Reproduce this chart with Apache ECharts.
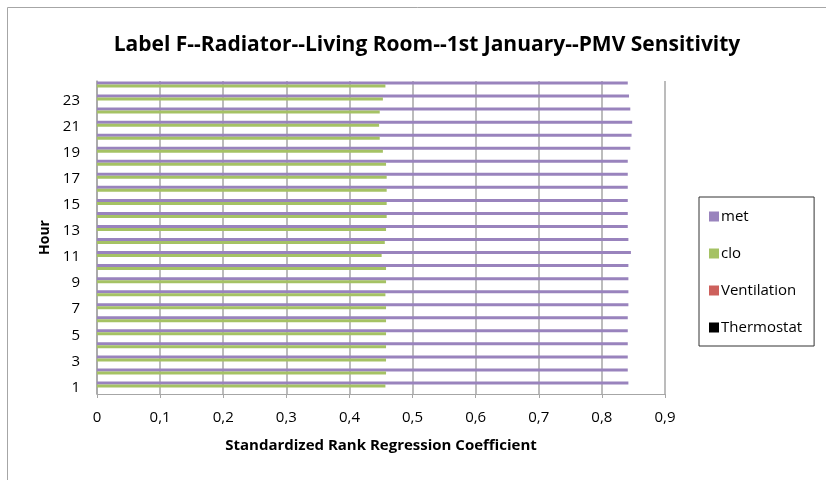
<!DOCTYPE html>
<html>
<head>
<meta charset="utf-8">
<script src="https://cdn.jsdelivr.net/npm/echarts@6/dist/echarts.min.js"></script>
<style>
  html, body { margin: 0; padding: 0; background: #fff; }
  #chart { width: 826px; height: 480px; }
</style>
</head>
<body>
<div id="chart"></div>
<script>
// hours, bottom to top
const hours = ["1", "2", "3", "4", "5", "6", "7", "8", "9", "10", "11", "12",
  "13", "14", "15", "16", "17", "18", "19", "20", "21", "22", "23", "24"];

const metValues = [0.842, 0.841, 0.841, 0.841, 0.841, 0.841, 0.842, 0.842, 0.842, 0.842, 0.846, 0.842,
  0.841, 0.841, 0.841, 0.841, 0.841, 0.841, 0.845, 0.847, 0.848, 0.845, 0.843, 0.841];
const cloValues = [0.457, 0.458, 0.458, 0.458, 0.458, 0.458, 0.458, 0.457, 0.458, 0.458, 0.451, 0.456,
  0.458, 0.459, 0.459, 0.459, 0.459, 0.458, 0.453, 0.448, 0.447, 0.448, 0.453, 0.457];
const ventilationValues = [0, 0, 0, 0, 0, 0, 0, 0, 0, 0, 0, 0,
  0, 0, 0, 0, 0, 0, 0, 0, 0, 0, 0, 0];
const thermostatValues = [0, 0, 0, 0, 0, 0, 0, 0, 0, 0, 0, 0,
  0, 0, 0, 0, 0, 0, 0, 0, 0, 0, 0, 0];

const xTickLabels = ["0", "0,1", "0,2", "0,3", "0,4", "0,5", "0,6", "0,7", "0,8", "0,9"];

const font = "Open Sans";

let myEcharts = echarts.init(document.getElementById("chart"));

function barSeries(name, color, data) {
  return {
    name: name,
    type: "bar",
    barGap: "0%",
    barCategoryGap: "8%",
    itemStyle: { color: color },
    data: data
  };
}

let option = {
  animation: false,
  textStyle: { fontFamily: font },
  graphic: [
    {
      type: "rect",
      shape: { x: 7.5, y: 7.5, width: 840, height: 490 },
      style: { fill: "none", stroke: "#a6a6a6", lineWidth: 1 },
      silent: true
    }
  ],
  title: {
    text: "Label F--Radiator--Living Room--1st January--PMV Sensitivity",
    left: 422,
    textAlign: "center",
    top: 30,
    textStyle: { fontFamily: font, fontSize: 21, fontWeight: "bold", color: "#000" }
  },
  legend: {
    orient: "vertical",
    left: 699,
    top: 197,
    padding: [12, 12, 11, 10],
    itemGap: 22,
    itemWidth: 10,
    itemHeight: 10,
    icon: "rect",
    borderColor: "#333",
    borderWidth: 1,
    textStyle: { fontFamily: font, fontSize: 15, color: "#000", padding: [0, 0, 0, -3] },
    data: ["met", "clo", "Ventilation", "Thermostat"]
  },
  grid: {
    left: 97,
    right: 161,
    top: 81,
    bottom: 86,
    containLabel: false
  },
  xAxis: {
    type: "value",
    min: 0,
    max: 0.9,
    interval: 0.1,
    name: "Standardized Rank Regression Coefficient",
    nameLocation: "middle",
    nameGap: 44,
    nameTextStyle: { fontFamily: font, fontSize: 15, fontWeight: "bold", color: "#000" },
    axisLine: { show: true, lineStyle: { color: "#a6a6a6", width: 1 } },
    axisTick: { show: true, length: 4, lineStyle: { color: "#a6a6a6" } },
    axisLabel: {
      fontFamily: font,
      fontSize: 15,
      color: "#000",
      margin: 16,
      formatter: (v) => xTickLabels[Math.round(v * 10)]
    },
    splitLine: { show: true, lineStyle: { color: "#a6a6a6", width: 1.5 } }
  },
  yAxis: {
    type: "category",
    data: hours,
    name: "Hour",
    nameLocation: "middle",
    nameGap: 44,
    nameRotate: 90,
    nameTextStyle: { fontFamily: font, fontSize: 14, fontWeight: "bold", color: "#000" },
    axisLine: { show: true, lineStyle: { color: "#a6a6a6", width: 1.5 } },
    axisTick: { show: false },
    axisLabel: { fontFamily: font, fontSize: 15, color: "#000", interval: 1, margin: 17 },
    splitLine: { show: false }
  },
  series: [
    barSeries("met", "#9983bd", metValues),
    barSeries("clo", "#a5c264", cloValues),
    barSeries("Ventilation", "#cd605c", ventilationValues),
    barSeries("Thermostat", "#000000", thermostatValues)
  ]
};

myEcharts.setOption(option);
</script>
</body>
</html>
